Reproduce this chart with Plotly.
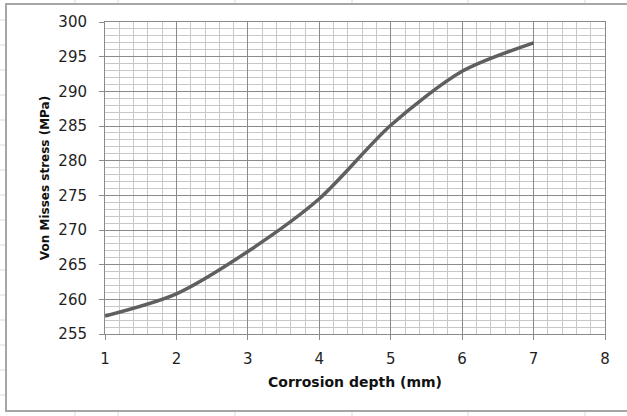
import plotly.graph_objects as go

depth_mm = [1, 2, 3, 4, 5, 6, 7]
von_mises_mpa = [257.6, 260.8, 266.9, 274.5, 285.1, 292.9, 297.0]

x_ticks = [1, 2, 3, 4, 5, 6, 7, 8]
y_ticks = [255, 260, 265, 270, 275, 280, 285, 290, 295, 300]

W, H = 627, 416
ML, MR, MT, MB = 105, 22, 22, 82
PW, PH = W - ML - MR, H - MT - MB


def px(xp):
    return (xp - ML) / PW


def py(yp):
    return (H - MB - yp) / PH


fig = go.Figure()
fig.add_trace(go.Scatter(
    x=depth_mm, y=von_mises_mpa, mode="lines",
    line=dict(color="#5f5f5f", width=3.5, shape="spline", smoothing=0.8),
    showlegend=False, hoverinfo="x+y",
))

shapes = []
for xv in [75, 118, 235, 352, 468, 585]:
    shapes.append(dict(type="line", xref="paper", yref="paper", x0=px(xv), x1=px(xv), y0=py(0), y1=py(4),
                       line=dict(color="#d4dae6", width=1), layer="below"))
    shapes.append(dict(type="line", xref="paper", yref="paper", x0=px(xv), x1=px(xv), y0=py(412), y1=py(416),
                       line=dict(color="#d4dae6", width=1), layer="below"))
for yv in range(20, 416, 25):
    shapes.append(dict(type="line", xref="paper", yref="paper", x0=px(0), x1=px(5), y0=py(yv), y1=py(yv),
                       line=dict(color="#d4dae6", width=1), layer="below"))
shapes.append(dict(type="rect", xref="paper", yref="paper", x0=px(6), x1=px(640), y0=py(411), y1=py(4),
                   line=dict(color="#a6a6a6", width=2), layer="below"))

fig.update_layout(
    width=W, height=H,
    margin=dict(l=ML, r=MR, t=MT, b=MB, autoexpand=False),
    paper_bgcolor="white", plot_bgcolor="white",
    font=dict(family="DejaVu Sans, sans-serif", size=13, color="#1f1f1f"),
    shapes=shapes,
    xaxis=dict(
        range=[1, 8], tickvals=x_ticks, ticktext=[str(v) for v in x_ticks],
        showgrid=True, gridcolor="#8a8a8a", gridwidth=1,
        minor=dict(dtick=0.2, showgrid=True, gridcolor="#c8c8c8", gridwidth=1),
        showline=True, linecolor="#8a8a8a", linewidth=1, mirror=True,
        ticks="outside", ticklen=5, tickcolor="#8a8a8a",
        zeroline=False, automargin=False, ticklabelstandoff=6,
        tickfont=dict(size=15),
        title=dict(text="<b>Corrosion depth (mm)</b>", standoff=10, font=dict(size=14, color="#111111")),
    ),
    yaxis=dict(
        range=[255, 300], tickvals=y_ticks, ticktext=[str(v) for v in y_ticks],
        showgrid=True, gridcolor="#8a8a8a", gridwidth=1,
        minor=dict(dtick=1, showgrid=True, gridcolor="#c8c8c8", gridwidth=1),
        showline=True, linecolor="#8a8a8a", linewidth=1, mirror=True,
        ticks="outside", ticklen=5, tickcolor="#8a8a8a",
        zeroline=False, automargin=False, ticklabelstandoff=9,
        tickfont=dict(size=15),
        title=dict(text="<b>Von Misses stress (MPa)</b>", standoff=6, font=dict(size=12, color="#111111")),
    ),
)

fig.write_html("out.html", config={"displayModeBar": False},
               post_script="document.body.style.margin='0';document.body.style.overflow='hidden';")
